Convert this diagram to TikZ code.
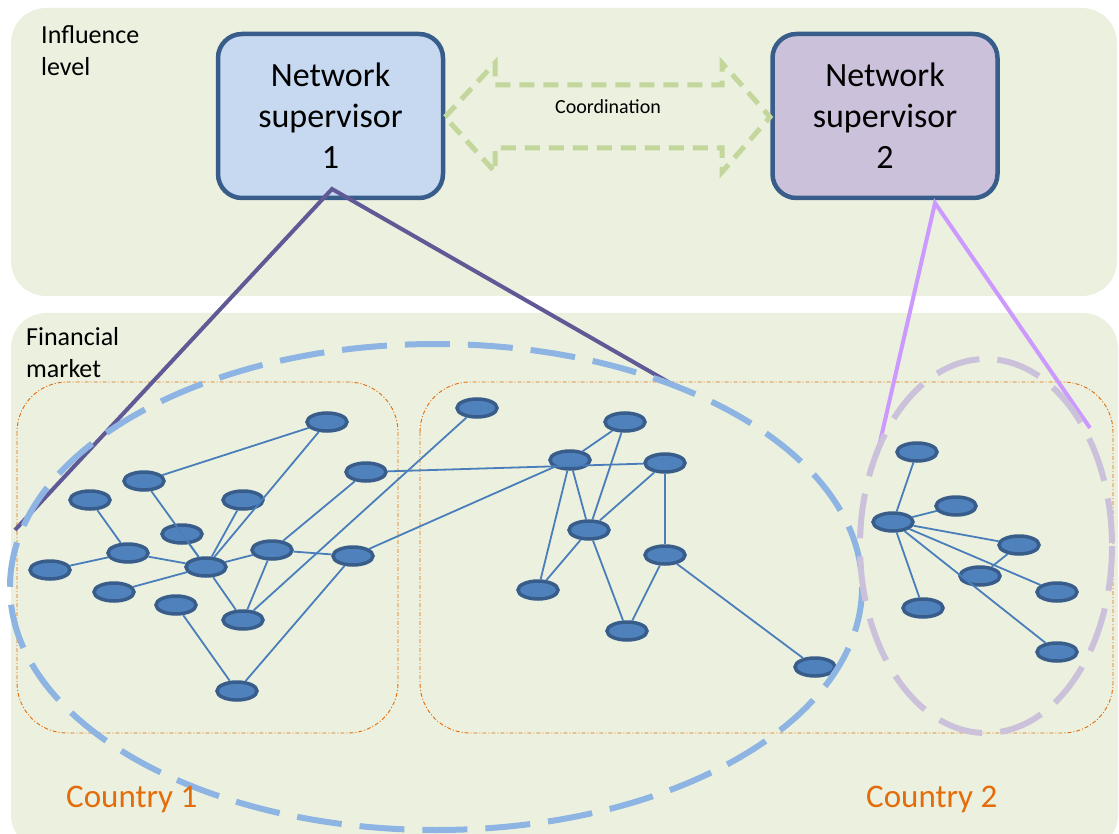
\documentclass[tikz,border=0pt]{standalone}
\usepackage{fontspec}
\setmainfont{Carlito}
\usetikzlibrary{shapes.geometric}
\definecolor{panel}{RGB}{235,241,222}
\definecolor{nsonefill}{RGB}{198,217,241}
\definecolor{nstwofill}{RGB}{204,193,218}
\definecolor{nsborder}{RGB}{56,93,138}
\definecolor{nodefill}{RGB}{79,129,189}
\definecolor{edgecol}{RGB}{74,126,187}
\definecolor{orangec}{RGB}{228,108,10}
\definecolor{bigblue}{RGB}{142,180,227}
\definecolor{lilac}{RGB}{204,193,218}
\definecolor{arrowgreen}{RGB}{195,214,155}
\definecolor{lineone}{RGB}{95,90,150}
\definecolor{linetwo}{RGB}{204,153,255}
\begin{document}
\begin{tikzpicture}[x=1pt,y=-1pt,
  bank/.style={ellipse, draw=nsborder, fill=nodefill, line width=3.5pt, minimum width=40pt, minimum height=18pt, inner sep=0pt},
  link/.style={draw=edgecol, line width=1.8pt},
  nsbox/.style={draw=nsborder, line width=4.5pt, rounded corners=24pt, minimum width=225pt, minimum height=164pt, align=center, font=\fontsize{34}{41}\selectfont},
  panelbox/.style={fill=panel, rounded corners=35pt},
  country/.style={draw=orangec, line width=0.9pt, dash pattern=on 4pt off 2pt on 1pt off 2pt, rounded corners=50pt},
  reach/.style={line width=4pt},
  group/.style={line width=6pt, dash pattern=on 45pt off 18pt},
  label/.style={align=left, inner sep=0pt, font=\fontsize{26}{32}\selectfont},
  countrylabel/.style={anchor=base west, inner sep=0pt, text=orangec, font=\fontsize{33}{40}\selectfont}]
\useasboundingbox (0,0) rectangle (1119,834);
% panels
\fill[panelbox] (11,8) rectangle (1117,296);
\fill[panelbox] (11,313) rectangle (1118,850);
% country frames
\draw[country] (17,382) rectangle (398,733);
\draw[country] (420,382) rectangle (1113,733);
% nodes - country 1
\node[bank] (a1) at (327,422) {};
\node[bank] (a2) at (144,481) {};
\node[bank] (a3) at (366,472) {};
\node[bank] (a4) at (90,500) {};
\node[bank] (a5) at (243,500) {};
\node[bank] (a6) at (182,534) {};
\node[bank] (a7) at (128,553) {};
\node[bank] (a8) at (272,550) {};
\node[bank] (a9) at (206,567) {};
\node[bank] (a10) at (50,570) {};
\node[bank] (a11) at (353,556) {};
\node[bank] (a12) at (114,592) {};
\node[bank] (a13) at (176,605) {};
\node[bank] (a14) at (243,620) {};
\node[bank] (a15) at (237,691) {};
% middle
\node[bank] (b1) at (477,408) {};
\node[bank] (b2) at (625,422) {};
\node[bank] (b3) at (570,460) {};
\node[bank] (b4) at (665,463) {};
\node[bank] (b5) at (589,530) {};
\node[bank] (b6) at (665,555) {};
\node[bank] (b7) at (538,590) {};
\node[bank] (b8) at (627,631) {};
\node[bank] (b9) at (815,667) {};
% right
\node[bank] (c1) at (917,452) {};
\node[bank] (c2) at (956,506) {};
\node[bank] (c3) at (893,522) {};
\node[bank] (c4) at (1019,545) {};
\node[bank] (c5) at (980,576) {};
\node[bank] (c6) at (1057,592) {};
\node[bank] (c7) at (923,608) {};
\node[bank] (c8) at (1057,652) {};
% edges
\draw[link] (a2) -- (a1);
\draw[link] (a1) -- (a9);
\draw[link] (a4) -- (a7);
\draw[link] (a10) -- (a7);
\draw[link] (a7) -- (a9);
\draw[link] (a2) -- (a9);
\draw[link] (a6) -- (a9);
\draw[link] (a5) -- (a9);
\draw[link] (a12) -- (a9);
\draw[link] (a9) -- (a8);
\draw[link] (a9) -- (a14);
\draw[link] (a8) -- (a14);
\draw[link] (a8) -- (a11);
\draw[link] (a8) -- (a3);
\draw[link] (a3) -- (b4);
\draw[link] (a11) -- (b3);
\draw[link] (a14) -- (b1);
\draw[link] (a13) -- (a15);
\draw[link] (a15) -- (a11);
\draw[link] (b3) -- (b2);
\draw[link] (b3) -- (b7);
\draw[link] (b3) -- (b5);
\draw[link] (b2) -- (b5);
\draw[link] (b4) -- (b5);
\draw[link] (b4) -- (b6);
\draw[link] (b5) -- (b7);
\draw[link] (b5) -- (b8);
\draw[link] (b6) -- (b8);
\draw[link] (b6) -- (b9);
\draw[link] (c3) -- (c1);
\draw[link] (c3) -- (c2);
\draw[link] (c3) -- (c4);
\draw[link] (c3) -- (c6);
\draw[link] (c5) -- (c4);
\draw[link] (c3) -- (c7);
\draw[link] (c3) -- (c8);
% supervisors
\node[nsbox, fill=nsonefill] (ns1) at (330.5,116) {Network\\supervisor\\1};
\node[nsbox, fill=nstwofill] (ns2) at (885,116) {Network\\supervisor\\2};
% reach lines
\coordinate (apexone) at (332,189);
\coordinate (apextwo) at (935,203);
\coordinate (oneleft) at (15,530);
\coordinate (oneright) at (670,383);
\coordinate (twoleft) at (877,455);
\coordinate (tworight) at (1090,428);
\draw[reach, lineone] (oneleft) -- (apexone) -- (oneright);
\draw[reach, linetwo] (twoleft) -- (apextwo) -- (tworight);
% group ellipses
\draw[group, bigblue] (436,587) ellipse [x radius=426, y radius=243];
\draw[group, lilac] (986,546) ellipse [x radius=126, y radius=187];
% coordination arrow
\draw[arrowgreen, line width=5pt, dash pattern=on 15pt off 9pt]
  (445,117) -- (495,63) -- (495,85) -- (722,85) -- (722,63) -- (770,117)
  -- (722,172) -- (722,148) -- (495,148) -- (495,172) -- cycle;
\node[font=\fontsize{20}{24}\selectfont] (coord) at (608,107) {Coordination};
% labels
\node[label, anchor=north west] (influence) at (41,25) {Influence\\level};
\node[label, anchor=north west] (financial) at (26,327) {Financial\\market};
\node[countrylabel] (cty1) at (66,807) {Country 1};
\node[countrylabel] (cty2) at (866,807) {Country 2};
\end{tikzpicture}
\end{document}
